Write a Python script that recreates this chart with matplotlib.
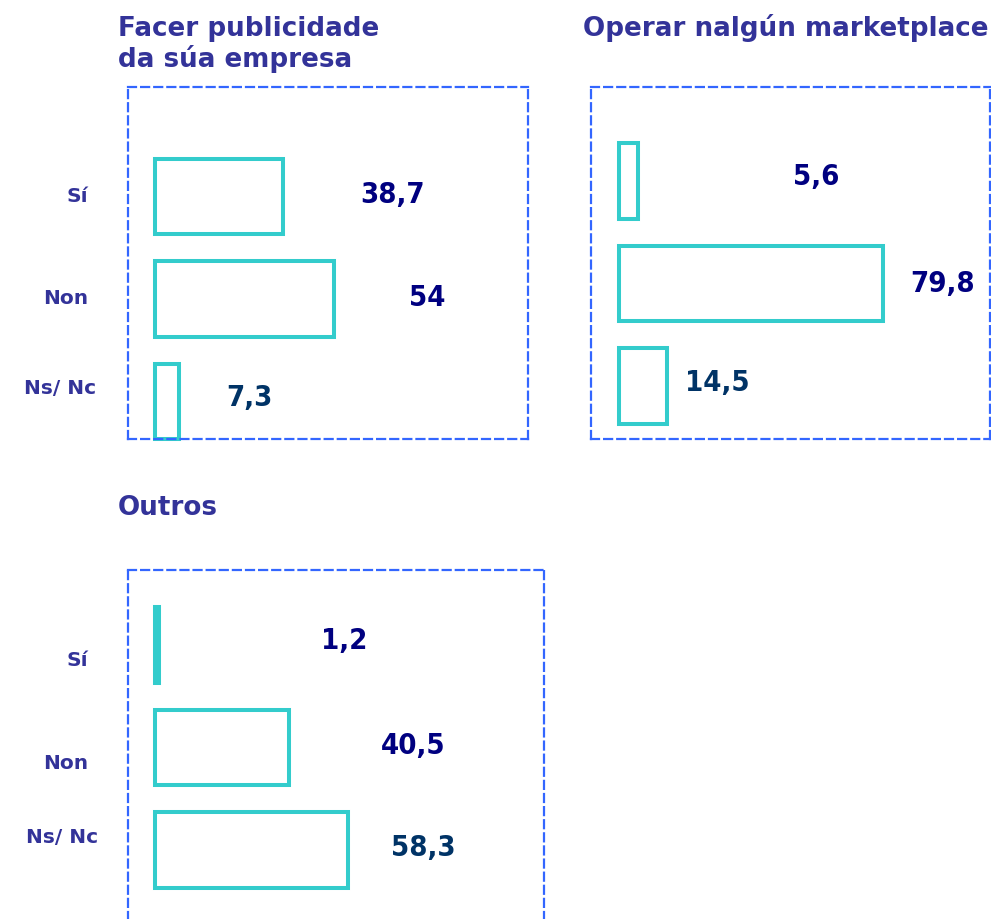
import matplotlib
matplotlib.use("Agg")
import matplotlib.pyplot as plt
from matplotlib import font_manager

# ---------------- data ----------------
categories = ["Sí", "Non", "Ns/ Nc"]
titles = ["Facer publicidade\nda súa empresa", "Operar nalgún marketplace", "Outros"]
values_publicidade = [38.7, 54.0, 7.3]
values_marketplace = [5.6, 79.8, 14.5]
values_outros = [1.2, 40.5, 58.3]
labels_publicidade = ["38,7", "54", "7,3"]
labels_marketplace = ["5,6", "79,8", "14,5"]
labels_outros = ["1,2", "40,5", "58,3"]

# ---------------- layout / style ----------------
W, H = 991, 920
DPI = 100
SCALE = 3.31          # px per unit
BAR_EDGE = "#33CCCC"
BOX = "#3366FF"
TITLE_C = "#333399"
NAVY = "#000080"
TEAL_NAVY = "#003366"

condensed = [f for f in font_manager.fontManager.ttflist
             if f.name == "DejaVu Sans" and "Condensed" in f.fname and f.weight in ("bold", 700)]
if condensed:
    num_props = font_manager.FontProperties(fname=condensed[0].fname, size=21)
else:
    num_props = font_manager.FontProperties(family="DejaVu Sans", weight="bold", size=19)

fig = plt.figure(figsize=(W / DPI, H / DPI), dpi=DPI)

def px_ax(x0, y0, x1, y1):
    return fig.add_axes([x0 / W, 1 - y1 / H, (x1 - x0) / W, (y1 - y0) / H])

panels = [
    dict(box=(128, 88, 528, 440), start=155, c0=197.5, vals=values_publicidade,
         labs=labels_publicidade, lx=[71.9, 82.1, 28.4], ldy=[-0.02, -0.02, -0.04],
         lc=[NAVY, NAVY, TEAL_NAVY], bottom=True),
    dict(box=(591, 88, 990, 440), start=619, c0=182, vals=values_marketplace,
         labs=labels_marketplace, lx=[59.6, 97.9, 29.6], ldy=[-0.05, 0.0, -0.04],
         lc=[NAVY, NAVY, TEAL_NAVY], bottom=True),
    dict(box=(128, 571, 544, 925), start=155, c0=646, vals=values_outros,
         labs=labels_outros, lx=[57.2, 77.9, 81.1], ldy=[-0.05, -0.02, -0.03],
         lc=[NAVY, NAVY, TEAL_NAVY], bottom=False),
]
SPACING = 102.5

for p in panels:
    x0, y0, x1, y1 = p["box"]
    ax = px_ax(x0, y0, x1, y1)
    ax.set_xlim(-(p["start"] - x0) / SCALE, (x1 - p["start"]) / SCALE)
    ax.set_ylim((y1 - p["c0"]) / SPACING, (y0 - p["c0"]) / SPACING)
    ypos = list(range(len(categories)))
    bars = ax.barh(ypos, p["vals"], height=0.74, left=0, facecolor="white",
                   edgecolor=BAR_EDGE, linewidth=2.9)
    for b in bars:
        b.set_clip_on(False)
    for y, v, lab, lx, dy, c in zip(ypos, p["vals"], p["labs"], p["lx"], p["ldy"], p["lc"]):
        ax.text(lx, y + dy, lab, ha="center", va="center", fontproperties=num_props,
                fontweight="bold", color=c)
    ax.set_xticks([])
    ax.set_yticks([])
    for name, sp in ax.spines.items():
        sp.set_color(BOX)
        sp.set_linewidth(1.6)
        sp.set_linestyle((0, (3.6, 2.3)))
    if not p["bottom"]:
        ax.spines["bottom"].set_visible(False)
    ax.patch.set_alpha(0)

# titles
fig.text(118 / W, 1 - 67 / H, titles[0], ha="left", va="baseline", fontsize=18.8,
         fontweight="bold", color=TITLE_C, linespacing=1.12)
fig.text(583 / W, 1 - 36 / H, titles[1], ha="left", va="baseline", fontsize=18.8,
         fontweight="bold", color=TITLE_C)
fig.text(118 / W, 1 - 515 / H, titles[2], ha="left", va="baseline", fontsize=18.8,
         fontweight="bold", color=TITLE_C)

# category labels (right aligned, px positions)
cat_pos_1 = [(88, 197), (88, 299), (96, 389)]
cat_pos_3 = [(88, 661), (88, 764), (98, 838)]
for pos in (cat_pos_1, cat_pos_3):
    for cat, (x, y) in zip(categories, pos):
        fig.text(x / W, 1 - y / H, cat, ha="right", va="center", fontsize=14.5,
                 fontweight="bold", color=TITLE_C)

fig.savefig("out.png", dpi=DPI)
